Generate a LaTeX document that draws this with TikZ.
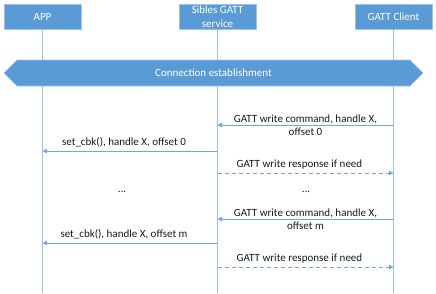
\documentclass[tikz,border=0pt]{standalone}
\usepackage{fontspec}
\setmainfont{Carlito}
\usetikzlibrary{arrows.meta,shapes.symbols}
\definecolor{gattblue}{HTML}{5B9BD5}
\definecolor{gattline}{HTML}{9DC3E6}
\definecolor{gattarrow}{HTML}{6FA8DC}
\begin{document}
\begin{tikzpicture}[
  x=1pt, y=-1pt,
  font=\fontsize{11}{13}\selectfont,
  actor/.style={rectangle, draw=gattline, fill=gattblue, text=white,
                minimum width=77pt, minimum height=25pt, align=center,
                inner sep=0pt, line width=0.6pt, font=\fontsize{11}{14}\selectfont},
  life/.style={draw=gattline, line width=0.7pt},
  banner/.style={signal, signal to=west and east, signal pointer angle=90,
                 draw=gattline, fill=gattblue, text=white, line width=0.6pt,
                 minimum width=419pt, minimum height=26pt, inner sep=0pt},
  msg/.style={-{Triangle[length=4.5pt,width=4.5pt]}, draw=gattarrow, line width=0.8pt},
  resp/.style={msg, dash pattern=on 4pt off 3pt},
  lbl/.style={text=black!90, align=center, inner sep=1pt},
]
\useasboundingbox (0,0) rectangle (436,293);

% ---- the three actors and their lifelines
\foreach \n/\x/\t in {app/42.5/APP, sib/217.5/{Sibles GATT\\service}, cli/393.5/GATT Client} {
  \node[actor] (\n) at (\x,16.5) {\t};
  \coordinate (\n end) at (\x,293);
  \draw[life] (\n.south) -- (\n end);
}

% ---- connection set up across all three
\node[banner] (conn) at (213.5,73) {Connection establishment};

% ---- first chunk, offset 0
\coordinate (cw0) at (393.5,125); \coordinate (sw0) at (217.5,125);
\draw[msg] (cw0) -- node[lbl] {GATT write command, handle X,\\offset 0} (sw0);

\coordinate (sc0) at (217.5,151); \coordinate (ac0) at (42.5,151);
\draw[msg] (sc0) -- node[lbl, above=2.5pt, xshift=-6pt] {set\_cbk(), handle X, offset 0} (ac0);

\coordinate (sr0) at (217.5,173); \coordinate (cr0) at (393.5,173);
\draw[resp] (sr0) -- node[lbl, above=2.5pt, xshift=-6pt] {GATT write response if need} (cr0);

% ---- gap
\node[lbl] (dotsL) at (122,192) {...};
\node[lbl] (dotsR) at (306,192) {...};

% ---- last chunk, offset m
\coordinate (cwm) at (393.5,219); \coordinate (swm) at (217.5,219);
\draw[msg] (cwm) -- node[lbl] {GATT write command, handle X,\\offset m} (swm);

\coordinate (scm) at (217.5,243); \coordinate (acm) at (42.5,243);
\draw[msg] (scm) -- node[lbl, above=2.5pt, xshift=-6pt] {set\_cbk(), handle X, offset m} (acm);

\coordinate (srm) at (217.5,267); \coordinate (crm) at (393.5,267);
\draw[resp] (srm) -- node[lbl, above=2.5pt, xshift=-6pt] {GATT write response if need} (crm);
\end{tikzpicture}
\end{document}
